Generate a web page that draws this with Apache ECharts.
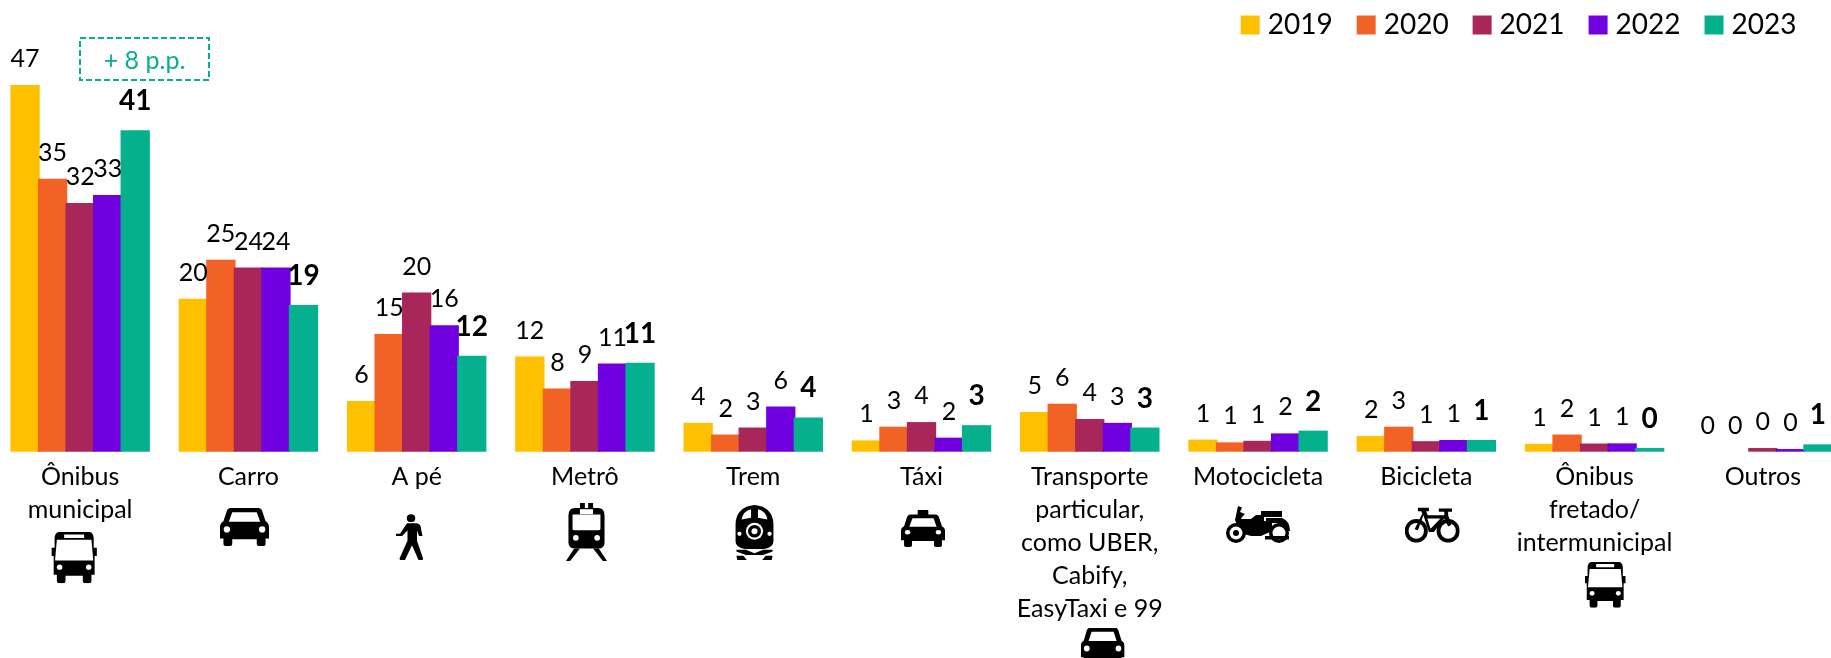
<!DOCTYPE html>
<html><head><meta charset="utf-8">
<script src="https://cdn.jsdelivr.net/npm/echarts@6/dist/echarts.min.js"></script>
<style>html,body{margin:0;padding:0;background:#fff}#c{width:1831px;height:658px}</style>
</head><body><div id="c"></div>
<script>
const categories = ['Ônibus\nmunicipal','Carro','A pé','Metrô','Trem','Táxi','Transporte\nparticular,\ncomo UBER,\nCabify,\nEasyTaxi e 99','Motocicleta','Bicicleta','Ônibus\nfretado/\nintermunicipal','Outros'];
const years = ['2019','2020','2021','2022','2023'];
const colors = ['#FFC000','#F26225','#A9265A','#7000E0','#05B08F'];
// bar heights
const v2019 = [47,19.6,6.5,12.2,3.7,1.45,5.1,1.55,2.0,1.0,0];
const v2020 = [35,24.6,15.1,8.1,2.2,3.2,6.15,1.2,3.2,2.2,0];
const v2021 = [31.9,23.6,20.4,9.05,3.1,3.8,4.2,1.4,1.35,1.05,0.47];
const v2022 = [32.9,23.6,16.2,11.3,5.8,1.8,3.7,2.35,1.5,1.07,0.34];
const v2023 = [41.2,18.8,12.3,11.4,4.4,3.4,3.1,2.7,1.5,0.47,0.94];
// numbers printed above the bars
const p2019 = [47,20,6,12,4,1,5,1,2,1,0];
const p2020 = [35,25,15,8,2,3,6,1,3,2,0];
const p2021 = [32,24,20,9,3,4,4,1,1,1,0];
const p2022 = [33,24,16,11,6,2,3,2,1,1,0];
const p2023 = [41,19,12,11,4,3,3,2,1,0,1];
const values = [v2019,v2020,v2021,v2022,v2023];
const printed = [p2019,p2020,p2021,p2022,p2023];
const FONT = 'Lato';

function circ(cx,cy,r){return `M${cx-r} ${cy}A${r} ${r} 0 1 1 ${cx+r} ${cy}A${r} ${r} 0 1 1 ${cx-r} ${cy}Z`;}
const B='#000',W='#fff';
const carBody='M22 0H78Q84 0 86 6L93 28Q100 32 100 40V64H93V76Q93 80 89 80H79Q75 80 75 76V66H25V76Q25 80 21 80H11Q7 80 7 76V64H0V40Q0 32 7 28L14 6Q16 0 22 0Z';
const icons = {
 car:{w:100,h:80,parts:[{d:carBody,f:B},{d:'M25 9H75L82 29H18Z',f:W},{d:circ(14,45,6.5),f:W},{d:circ(86,45,6.5),f:W}]},
 taxi:{w:100,h:100,parts:[{d:'M38 0H62V14H38Z',f:B},{d:'M22 12H78Q84 12 86 18L93 44Q100 48 100 54V82H93V96Q93 100 89 100H79Q75 100 75 96V84H25V96Q25 100 21 100H11Q7 100 7 96V82H0V54Q0 48 7 44L14 18Q16 12 22 12Z',f:B},{d:'M26 22H74L81 45H19Z',f:W},{d:circ(15,60,6),f:W},{d:circ(85,60,6),f:W}]},
 bus:{w:100,h:115,parts:[{d:'M20 0H80Q92 0 93 14V36H100V54H95V96H88V110Q88 115 83 115H74Q69 115 69 110V98H31V110Q31 115 26 115H17Q12 115 12 110V96H5V54H0V36H7V14Q8 0 20 0Z',f:B},{d:'M12 18H88L92 64H8Z',f:W},{d:'M28 6H72V14H28Z',f:W},{d:circ(18,79,6),f:W},{d:circ(82,79,6),f:W}]},
 metro:{w:100,h:140,parts:[{d:'M34 0H46V16H34ZM54 0H66V16H54Z',f:B},{d:'M22 12H78Q94 12 94 30V96Q94 110 78 110H22Q6 110 6 96V30Q6 12 22 12Z',f:B},{d:'M16 28H84V62Q84 66 80 66H20Q16 66 16 62Z',f:W},{d:'M34 15H66V27H34Z',f:W},{d:circ(24,84,7),f:W},{d:circ(76,84,7),f:W},{d:'M20 110H34L10 140H0ZM66 110H80L100 140H90Z',f:B}]},
 train:{w:100,h:130,parts:[{d:'M50 0Q92 4 94 44V86Q94 100 72 104H28Q6 100 6 86V44Q8 4 50 0Z',f:B},{d:'M20 34Q24 14 42 10V30ZM80 34Q76 14 58 10V30Z',f:W},{d:circ(50,62,20),f:W},{d:circ(50,62,15),f:B},{d:circ(50,62,7),f:W},{d:circ(15,68,5),f:W},{d:circ(85,68,5),f:W},{d:'M8 106H30L50 114L70 106H92V110L70 118H30L8 110Z',f:B},{d:'M8 120H24L32 130H10ZM76 120H92L90 130H68Z',f:B}]},
 walker:{w:60,h:100,parts:[{d:circ(32,9,8.5),f:B},{d:'M24 20H44Q52 22 52 32L55 48H48L44 36V58L56 96Q57 100 52 100H47L34 68L20 100H10Q8 98 10 94L25 58V36L14 48H2V43H10Z',f:B}]},
};
const wheel=(cx,cy,r,t)=>[{d:circ(cx,cy,r),f:B},{d:circ(cx,cy,r-t),f:W}];
icons.bike={w:100,h:64,parts:[...wheel(21,43,21,7),...wheel(79,43,21,7),
 {d:'M24 2H44V8H39L42 15H72V9H62V3H86V9H79V15L85 32L79 35L72 21L53 45H44L34 15L24 42L18 40L32 12L30 8H24ZM41 21L47 39L65 21Z',f:B}]};
icons.moto={w:130,h:74,parts:[...wheel(20,54,20,7),{d:circ(20,54,6),f:B},...wheel(106,54,20,7),
 {d:'M24 0L32 3L28 12L38 16L32 22L30 26H50L60 18H76V30H92V50L70 60H50L36 56L28 40L22 38L18 28Z',f:B},
 {d:'M70 10H112V22H70Z',f:B},{d:'M80 24H112Q128 30 128 50H120Q118 36 104 34H80Z',f:B},
 {d:'M78 60H126V67H78Z',f:B}]};
// icon placement beneath each category: [name, left, top, width, height]
const iconPlaces = [['bus',51.4,531.7,45.5,51.6],['car',220,508,49,38],['walker',395,514,30,46],['metro',566,503,41,58],['train',733,505,43,55],['taxi',901,510,44,37],['car',1080.6,627.7,44,37],['moto',1226,506,65,37],['bike',1404.7,506.7,55,36],['bus',1584.7,561.7,41,46]];

function iconUrl(ic,w,h){
  const body=ic.parts.map(p=>`<path d="${p.d}" fill="${p.f}"/>`).join('');
  const svg=`<svg xmlns="http://www.w3.org/2000/svg" width="${Math.round(w*3)}" height="${Math.round(h*3)}" viewBox="0 0 ${ic.w} ${ic.h}" preserveAspectRatio="none">${body}</svg>`;
  return 'data:image/svg+xml;charset=utf-8,'+encodeURIComponent(svg);
}
const iconGraphics = iconPlaces.map(([n,x,y,w,h])=>({
  type:'image',silent:true,x,y,style:{image:iconUrl(icons[n],w,h),x:0,y:0,width:w,height:h}
}));

const chart = echarts.init(document.getElementById('c'),null,{renderer:'canvas'});
chart.setOption({
  animation:false,
  backgroundColor:'#fff',
  textStyle:{fontFamily:FONT},
  legend:{right:29.5,top:6,icon:'rect',itemWidth:19,itemHeight:19,itemGap:24,
    textStyle:{fontFamily:FONT,fontSize:28,color:'#000',padding:[0,0,0,3]},data:years},
  grid:{left:-4,width:1851,top:61.7,height:390,outerBoundsMode:'none',containLabel:false},
  xAxis:{type:'category',data:categories,axisLine:{show:false},axisTick:{show:false},
    axisLabel:{interval:0,margin:9,fontFamily:FONT,fontSize:25,lineHeight:33,color:'#000',align:'center',verticalAlign:'top'}},
  yAxis:{type:'value',min:0,max:50,show:false,splitLine:{show:false}},
  series:years.map((y,i)=>({
    name:y,type:'bar',barWidth:29.3,barGap:'-6%',
    data:values[i],
    itemStyle:{color:colors[i]},
    label:{show:true,position:'top',distance:i===4?15:13.5,color:'#000',fontFamily:FONT,
      fontSize:i===4?28:25,fontWeight:i===4?'bold':'normal',
      formatter:p=>String(printed[i][p.dataIndex])},
    labelLayout:{hideOverlap:false}
  })),
  graphic:[
    {type:'rect',silent:true,shape:{x:80,y:38,width:129,height:42},
      style:{fill:'none',stroke:'#05B08F',lineWidth:2,lineDash:[6,3]}},
    {type:'text',silent:true,x:144.5,y:61,
      style:{text:'+ 8 p.p.',fill:'#05B08F',fontFamily:FONT,fontSize:25,align:'center',verticalAlign:'middle'}},
    ...iconGraphics
  ]
});
</script></body></html>
